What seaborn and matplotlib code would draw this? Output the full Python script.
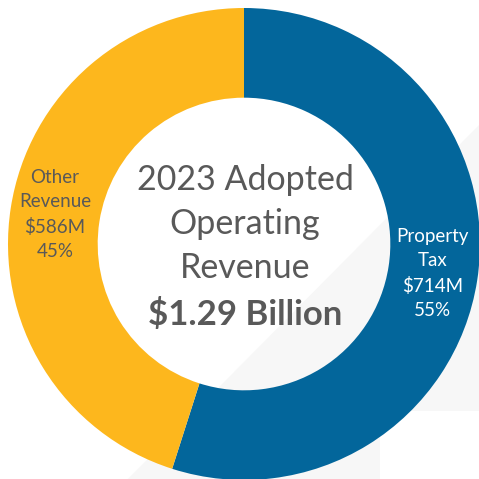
import numpy as np
import matplotlib.pyplot as plt
import seaborn as sns
from matplotlib.patches import Polygon

# revenue split (millions)
categories = ['Property\nTax', 'Other\nRevenue']
amounts = [714, 586]
shares = [55, 45]
colors = ['#03669b', '#fdb71d']
label_colors = ['white', '#595959']

title_lines = ['2023 Adopted', 'Operating', 'Revenue']
total_text = '$1.29 Billion'

sns.set_theme(style='white')
plt.rcParams['font.family'] = ['Lato', 'DejaVu Sans']

fig = plt.figure(figsize=(4.79, 4.79), dpi=100)
fig.patch.set_facecolor('white')

# faint diagonal backdrop shape (figure pixels, from top-left)
W = 479
bg_px = [(112, 495), (479, 125), (479, 411), (380, 411), (380, 495)]
bg = Polygon([(x / W, 1 - y / W) for x, y in bg_px], closed=True,
             transform=fig.transFigure, facecolor='#f7f7f7', edgecolor='none', zorder=-1)
fig.patches.append(bg)

ax = fig.add_axes([0, 0, 1, 1])
ax.set_zorder(1)
ax.patch.set_visible(False)

labels = [f'{c}\n${a}M\n{s}%' for c, a, s in zip(categories, amounts, shares)]
wedges, texts = ax.pie(amounts, labels=labels, colors=colors, startangle=90,
                       counterclock=False, radius=1.0, labeldistance=0.81,
                       wedgeprops=dict(width=0.38, edgecolor='none'),
                       textprops=dict(fontsize=13.5, ha='center', va='center',
                                      linespacing=1.5))
for t, c in zip(texts, label_colors):
    t.set_color(c)
    t.set_horizontalalignment('center')

# center text
ax.text(0.004, 0.085, '\n'.join(title_lines), ha='center', va='center',
        fontsize=24.5, color='#595959', linespacing=1.45)
ax.text(0.004, -0.3, total_text, ha='center', va='center',
        fontsize=25, color='#595959', fontweight='bold')

ax.set_xlim(-244 / 236, (W - 244) / 236)
ax.set_ylim(-(W - 244) / 236, 244 / 236)
ax.axis('off')

fig.savefig('out.png', dpi=100, facecolor='white')
